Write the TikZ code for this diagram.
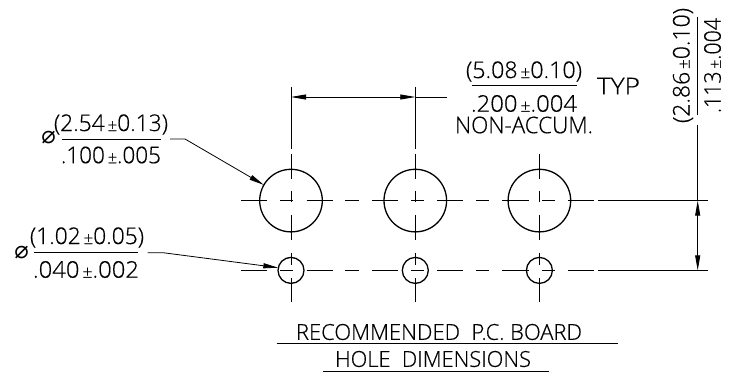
\documentclass[tikz,border=0pt]{standalone}
\usepackage{fontspec}
\usepackage{graphicx}
\usetikzlibrary{arrows.meta}
\newfontfamily\cadfont[UprightFont={* Light},FakeBold=0.5]{Open Sans}
\newfontfamily\diafont{DejaVu Sans}
\newsavebox{\fitbox}
\newcommand{\fitw}[2]{\sbox{\fitbox}{#2}\pgfmathsetmacro{\fitr}{#1/(\the\wd\fitbox)*1pt}\scalebox{\fitr}[1]{\usebox{\fitbox}}}
\newcommand{\pmm}{{\fontsize{17}{17}\selectfont\,±}}
\tikzset{
  lab/.style={inner sep=0pt,outer sep=0pt,text=black,font=\cadfont\fontsize{23}{23}\selectfont},
  titlelab/.style={lab,font=\cadfont\fontsize{22}{22}\selectfont},
  dialab/.style={inner sep=0pt,outer sep=0pt,text=black,font=\diafont\fontsize{24}{24}\selectfont},
  thin line/.style={draw=black,line width=0.8pt},
  hole/.style={circle,draw=black,line width=1.3pt,inner sep=0pt,outer sep=0pt},
  bighole/.style={hole,minimum size=62.6pt},
  smallhole/.style={hole,minimum size=26pt},
  dimarrow/.style={thin line,-{Stealth[inset=0pt,length=15pt,width=5pt]}},
  dimboth/.style={thin line,{Stealth[inset=0pt,length=15pt,width=5pt]}-{Stealth[inset=0pt,length=15pt,width=5pt]}}
}
\begin{document}
\begin{tikzpicture}[x=1pt,y=-1pt]
\useasboundingbox[fill=white] (0,0) rectangle (734,377);
% centre lines
\foreach \y in {200.6,270.4}{
  \foreach \a/\b in {241/267,280/293,306.7/332.7,345.3/358.7,371.7/397.7,411/424,437/463,476/489.3,502.3/528.7,542/555,568/593.7}
    \draw[thin line] (\a,\y) -- (\b,\y);
}
\foreach \x in {291,415.3,539.4}
  \foreach \a/\b in {154/179,190.7/202.5,215/240,252.7/265,278/301.7}
    \draw[thin line] (\x,\a) -- (\x,\b);
% holes
\node[bighole] (h1) at (291,200.6) {};
\node[bighole] (h2) at (415.3,200.6) {};
\node[bighole] (h3) at (539.4,200.6) {};
\node[smallhole] (s1) at (291,270.4) {};
\node[smallhole] (s2) at (415.3,270.4) {};
\node[smallhole] (s3) at (539.4,270.4) {};
% horizontal spacing dimension
\coordinate (e1t) at (291,87); \coordinate (e1b) at (291,149);
\coordinate (e2t) at (415.3,87); \coordinate (e2b) at (415.3,149);
\coordinate (dl) at (291,97); \coordinate (dr) at (415.3,97); \coordinate (dm) at (446.7,97);
\draw[thin line] (e1t) -- (e1b);
\draw[thin line] (e2t) -- (e2b);
\draw[dimboth] (dl) -- (dr);
\draw[thin line] (dr) -- (dm);
\node[lab] (f1) at (524,71.5) {\fitw{116}{(5.08\pmm0.10)}};
\coordinate (b1a) at (472,85.7); \coordinate (b1b) at (576.7,85.7);
\draw[thin line] (b1a) -- (b1b);
\node[lab] (f2) at (524,103.5) {\fitw{106}{.200\pmm.004}};
\node[lab] (f3) at (524,125) {\fitw{138}{NON-ACCUM.}};
\node[lab] (typ) at (618.5,86) {\fitw{43}{TYP}};
% vertical dimension
\coordinate (rbt) at (598,200.6); \coordinate (rbe) at (708,200.6);
\coordinate (rst) at (598,270.4); \coordinate (rse) at (708,270.4);
\draw[thin line] (rbt) -- (rbe);
\draw[thin line] (rst) -- (rse);
\coordinate (v0) at (697.7,125); \coordinate (v1) at (697.7,200.6); \coordinate (v2) at (697.7,270.4);
\draw[thin line] (v0) -- (v1);
\draw[dimboth] (v1) -- (v2);
\coordinate (b2a) at (697.7,16.7); \coordinate (b2b) at (697.7,115);
\draw[thin line] (b2a) -- (b2b);
\node[lab,rotate=90] (g1) at (683,65.5) {\fitw{115}{(2.86\pmm0.10)}};
\node[lab,rotate=90] (g2) at (712.5,65.5) {\fitw{95}{.113\pmm.004}};
% big hole callout
\node[lab] (c1) at (111,124.5) {\fitw{114}{(2.54\pmm0.13)}};
\node[lab] (c2) at (111,155) {\fitw{100}{.100\pmm.005}};
\coordinate (b3a) at (62,139); \coordinate (b3b) at (160.7,139);
\draw[thin line] (b3a) -- (b3b);
\coordinate (l1a) at (170,139); \coordinate (l1b) at (185,139);
\draw[dimarrow] (l1a) -- (l1b) -- (h1.150);
\node[dialab] (d1) at (48.5,138) {⌀};
% small hole callout
\node[lab] (c3) at (87,237.5) {\fitw{114}{(1.02\pmm0.05)}};
\node[lab] (c4) at (86,269.5) {\fitw{106}{.040\pmm.002}};
\coordinate (b4a) at (34,252.7); \coordinate (b4b) at (138,252.7);
\draw[thin line] (b4a) -- (b4b);
\coordinate (l2a) at (147.7,252.7); \coordinate (l2b) at (163,252.7);
\draw[dimarrow] (l2a) -- (l2b) -- (s1.168);
\node[dialab] (d2) at (21.5,252.5) {⌀};
% title
\node[titlelab] (t1) at (439,332) {\fitw{286}{RECOMMENDED\ \ P.C. BOARD}};
\coordinate (u1a) at (276.7,343.7); \coordinate (u1b) at (618,343.7);
\draw[line width=1pt] (u1a) -- (u1b);
\node[titlelab] (t2) at (433,359) {\fitw{196}{HOLE\ \ DIMENSIONS}};
\coordinate (u2a) at (323,371.7); \coordinate (u2b) at (549,371.7);
\draw[line width=1pt] (u2a) -- (u2b);
\end{tikzpicture}
\end{document}
